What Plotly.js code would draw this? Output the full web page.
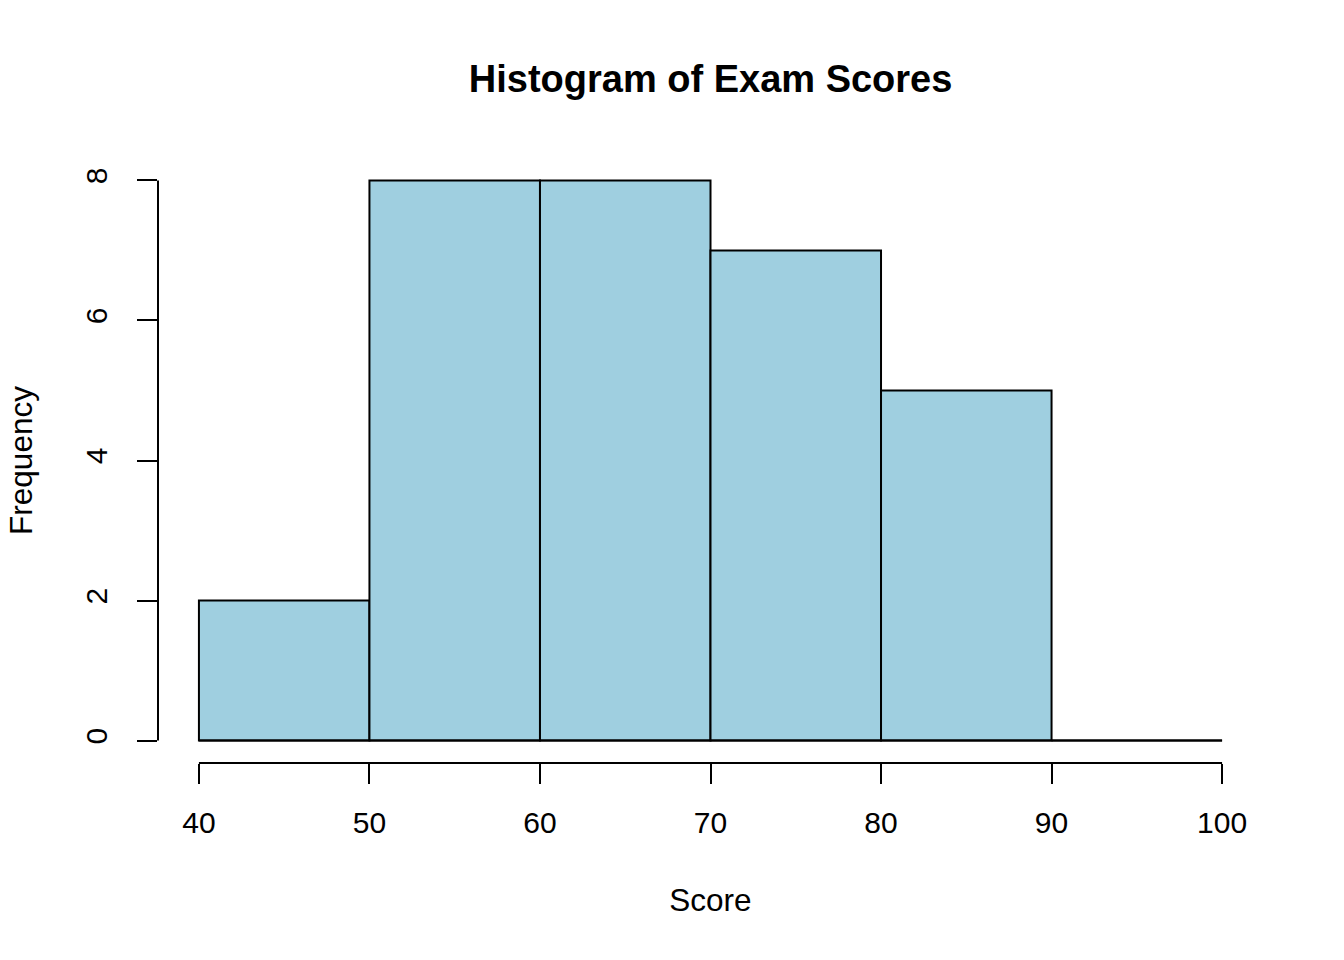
<!DOCTYPE html>
<html>
<head>
<meta charset="utf-8">
<script src="https://cdn.plot.ly/plotly-3.0.1.min.js"></script>
<style>html,body{margin:0;padding:0;background:#fff;}#chart{width:1344px;height:960px;}</style>
</head>
<body>
<div id="chart"></div>
<script>
var binStarts = [40, 50, 60, 70, 80, 90];
var binWidth = 10;
var counts = [2, 8, 8, 7, 5, 0];
var xTicks = [40, 50, 60, 70, 80, 90, 100];
var yTicks = [0, 2, 4, 6, 8];

var centers = binStarts.map(function (s) { return s + binWidth / 2; });
var FONT = 'Liberation Sans, Arial, Helvetica, sans-serif';

var trace = {
  type: 'bar',
  x: centers,
  y: counts,
  width: binStarts.map(function () { return binWidth; }),
  marker: { color: '#9fcfe0', line: { color: '#000', width: 2 } },
  hoverinfo: 'x+y'
};

var xMin = xTicks[0], xMax = xTicks[xTicks.length - 1];
var yMin = yTicks[0], yMax = yTicks[yTicks.length - 1];
var xPad = (xMax - xMin) * 0.04, yPad = (yMax - yMin) * 0.04;

var layout = {
  width: 1344, height: 960,
  paper_bgcolor: '#fff', plot_bgcolor: '#fff',
  margin: { l: 158, r: 81, t: 158, b: 197 },
  showlegend: false,
  bargap: 0,
  font: { family: FONT, color: '#000', size: 30 },
  title: {
    text: '<b>Histogram of Exam Scores</b>',
    font: { family: FONT, size: 38, color: '#000' },
    x: 0.5287, xanchor: 'center', y: 0.918, yanchor: 'middle'
  },
  xaxis: {
    range: [xMin - xPad, xMax + xPad],
    tickvals: xTicks, ticktext: xTicks.map(String),
    ticks: 'outside', ticklen: 20, tickwidth: 2, tickcolor: '#000',
    showline: false, showgrid: false, zeroline: false,
    tickfont: { family: FONT, size: 30, color: '#000' },
    ticklabelstandoff: 13,
    title: { text: 'Score', font: { family: FONT, size: 31.5, color: '#000' }, standoff: 50 },
    fixedrange: true
  },
  yaxis: {
    range: [yMin - yPad, yMax + yPad],
    tickvals: yTicks, ticktext: yTicks.map(String),
    tickangle: -90,
    ticks: 'outside', ticklen: 20, tickwidth: 2, tickcolor: '#000',
    showline: false, showgrid: false, zeroline: false,
    tickfont: { family: FONT, size: 30, color: '#000' },
    ticklabelstandoff: 18,
    title: { text: 'Frequency', font: { family: FONT, size: 31.5, color: '#000' }, standoff: 37 },
    fixedrange: true
  },
  shapes: [
    { type: 'line', xref: 'x', yref: 'paper', x0: xMin, x1: xMax, y0: 0, y1: 0, line: { color: '#000', width: 2 } },
    { type: 'line', xref: 'paper', yref: 'y', x0: 0, x1: 0, y0: yMin, y1: yMax, line: { color: '#000', width: 2 } },
    { type: 'line', xref: 'x', yref: 'y', x0: xMin, x1: xMax, y0: 0, y1: 0, line: { color: '#000', width: 2 }, layer: 'above' }
  ]
};

Plotly.newPlot('chart', [trace], layout, { displayModeBar: false, staticPlot: true });
</script>
</body>
</html>
